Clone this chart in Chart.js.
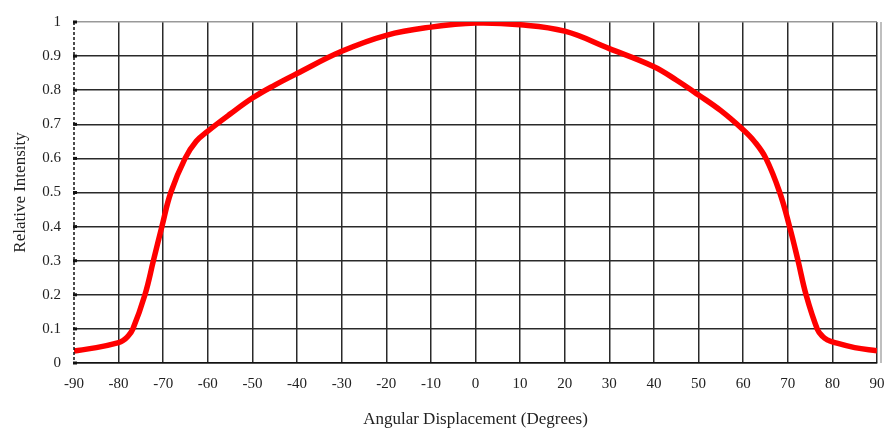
<!DOCTYPE html>
<html>
<head>
<meta charset="utf-8">
<script src="https://cdn.jsdelivr.net/npm/chart.js@4"></script>
<style>
html,body{margin:0;padding:0;background:#fff;}
#wrap{width:888px;height:432px;position:relative;}
</style>
</head>
<body>
<div id="wrap"><canvas id="c" width="888" height="432"></canvas></div>
<script>
// Angular displacement (degrees)
const angles = [-90,-85,-80,-79,-78,-76.8,-74.1,-72.2,-70.3,-68.3,-65.1,-62.6,-60,-55,-50,-45,-40,-30,-20,-10,0,10,20,30,40,45,50,55,60,62.5,65.1,68.2,70.4,72.3,74.1,76.6,77.8,79,80,85,90];
// Relative intensity
const intensity = [0.035,0.045,0.06,0.066,0.077,0.1,0.2,0.3,0.4,0.5,0.6,0.65,0.68,0.73,0.777,0.815,0.849,0.914,0.961,0.985,0.997,0.992,0.973,0.922,0.869,0.83,0.786,0.74,0.684,0.65,0.6,0.5,0.4,0.3,0.2,0.1,0.078,0.067,0.062,0.045,0.036];
const xTitle = 'Angular Displacement (Degrees)';
const yTitle = 'Relative Intensity';

const points = angles.map((a, i) => ({x: a, y: intensity[i]}));

const framePlugin = {
  id: 'frame',
  afterDatasetsDraw(chart) {
    const {ctx, chartArea} = chart;
    ctx.save();
    // gray right border
    ctx.strokeStyle = '#aaa';
    ctx.lineWidth = 1.5;
    ctx.beginPath();
    ctx.moveTo(chartArea.right + 4, chartArea.top);
    ctx.lineTo(chartArea.right + 4, chartArea.bottom);
    ctx.stroke();
    // dashed left axis
    ctx.strokeStyle = '#111';
    ctx.lineWidth = 1.5;
    ctx.setLineDash([3, 2]);
    ctx.beginPath();
    ctx.moveTo(chartArea.left, chartArea.top);
    ctx.lineTo(chartArea.left, chartArea.bottom);
    ctx.stroke();
    ctx.setLineDash([]);
    // small tick marks on the left axis
    const y = chart.scales.y;
    ctx.fillStyle = '#111';
    for (let v = 0; v <= 10; v++) {
      const py = y.getPixelForValue(v / 10);
      ctx.fillRect(chartArea.left - 1, py - 1.5, 4, 3);
    }
    ctx.restore();
  }
};

const serif = '"Liberation Serif", "DejaVu Serif", serif';

new Chart(document.getElementById('c'), {
  type: 'line',
  data: {
    datasets: [{
      data: points,
      borderColor: '#ff0000',
      borderWidth: 5.5,
      pointRadius: 0,
      fill: false,
      tension: 0.4
    }]
  },
  options: {
    responsive: false,
    animation: false,
    events: [],
    plugins: { legend: {display: false}, tooltip: {enabled: false} },
    layout: { padding: {top: 20, right: 11, left: 0, bottom: 0} },
    scales: {
      x: {
        type: 'linear',
        min: -90, max: 90,
        afterFit(s) { s.height = 69; s.paddingLeft = 0; s.paddingRight = 0; },
        ticks: { stepSize: 10, color: '#222', font: {family: serif, size: 15}, padding: 12, maxRotation: 0 },
        grid: {
          drawTicks: false,
          lineWidth: 1.5,
          color: (c) => (c.tick && c.tick.value === -90) ? 'rgba(0,0,0,0)' : '#2a2a2a'
        },
        border: { color: '#111', width: 1.5 },
        title: { display: true, text: xTitle, color: '#222', font: {family: serif, size: 17}, padding: {top: 0, bottom: 2} }
      },
      y: {
        min: 0, max: 1,
        afterFit(s) { s.width = 74; },
        ticks: {
          stepSize: 0.1, color: '#222', font: {family: serif, size: 15}, padding: 13,
          callback: (v) => String(Math.round(v * 10) / 10)
        },
        grid: {
          drawTicks: false,
          lineWidth: 1.5,
          color: (c) => (c.tick && c.tick.value === 1) ? '#999' : '#2a2a2a'
        },
        border: { display: false },
        title: { display: true, text: yTitle, color: '#222', font: {family: serif, size: 17}, padding: {top: 10, bottom: 0} }
      }
    }
  },
  plugins: [framePlugin]
});
</script>
</body>
</html>
